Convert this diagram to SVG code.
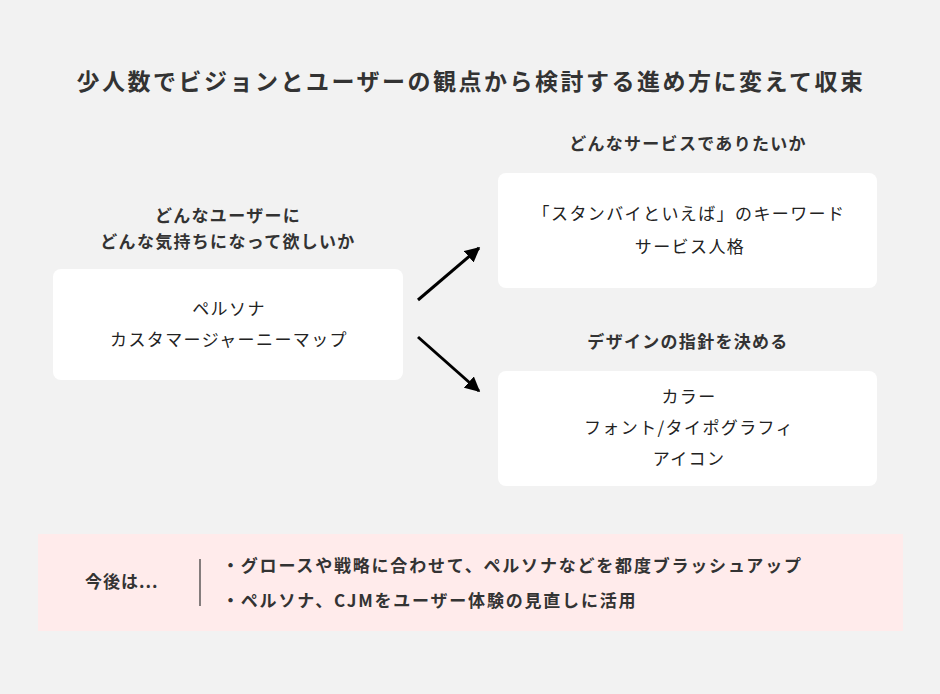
<svg xmlns="http://www.w3.org/2000/svg" width="940" height="694" viewBox="0 0 940 694">
<defs>
<style>
.t{font-family:"Noto Sans CJK JP","Noto Sans",sans-serif;fill:#333;text-anchor:middle}
.h{font-size:23px;font-weight:bold;letter-spacing:2.5px}
.l{font-size:17px;font-weight:bold;letter-spacing:1.3px}
.n{font-size:17px;fill:#222;letter-spacing:1.4px}
.s{text-anchor:start;letter-spacing:1.8px}
.box{fill:#fff}
</style>
<marker id="ah" viewBox="0 0 10 10" refX="9" refY="5" markerWidth="5" markerHeight="5" markerUnits="strokeWidth" orient="auto">
<path d="M0,0 L10,5 L0,10 z" fill="#000"/>
</marker>
</defs>
<rect width="940" height="694" fill="#f2f2f2"/>
<text class="t h" x="471" y="90">少人数でビジョンとユーザーの観点から検討する進め方に変えて収束</text>
<g id="node-user">
<text class="t l" x="228" y="222">どんなユーザーに</text>
<text class="t l" x="228" y="248">どんな気持ちになって欲しいか</text>
<rect class="box" x="53" y="269" width="350" height="111" rx="8"/>
<text class="t n" x="229" y="315">ペルソナ</text>
<text class="t n" x="229" y="346">カスタマージャーニーマップ</text>
</g>
<g id="node-service">
<text class="t l" x="688" y="150">どんなサービスでありたいか</text>
<rect class="box" x="498" y="173" width="379" height="115" rx="8"/>
<text class="t n" x="689" y="220">「スタンバイといえば」のキーワード</text>
<text class="t n" x="690" y="253">サービス人格</text>
</g>
<g id="node-design">
<text class="t l" x="688" y="348">デザインの指針を決める</text>
<rect class="box" x="498" y="371" width="379" height="115" rx="8"/>
<text class="t n" x="689" y="403">カラー</text>
<text class="t n" x="689" y="434">フォント/タイポグラフィ</text>
<text class="t n" x="689" y="465">アイコン</text>
</g>
<g id="connectors" stroke="#000" stroke-width="3" fill="none">
<line x1="418" y1="300" x2="479" y2="248" marker-end="url(#ah)"/>
<line x1="418" y1="337" x2="479" y2="391" marker-end="url(#ah)"/>
</g>
<g id="node-future">
<rect x="38" y="534" width="865" height="97" fill="#ffebeb"/>
<text class="t l s" x="85" y="588" style="letter-spacing:1px">今後は...</text>
<line x1="200" y1="559" x2="200" y2="606" stroke="#333" stroke-width="1.2"/>
<text class="t l s" x="222" y="572">・グロースや戦略に合わせて、ペルソナなどを都度ブラッシュアップ</text>
<text class="t l s" x="222" y="607">・ペルソナ、CJMをユーザー体験の見直しに活用</text>
</g>
</svg>
